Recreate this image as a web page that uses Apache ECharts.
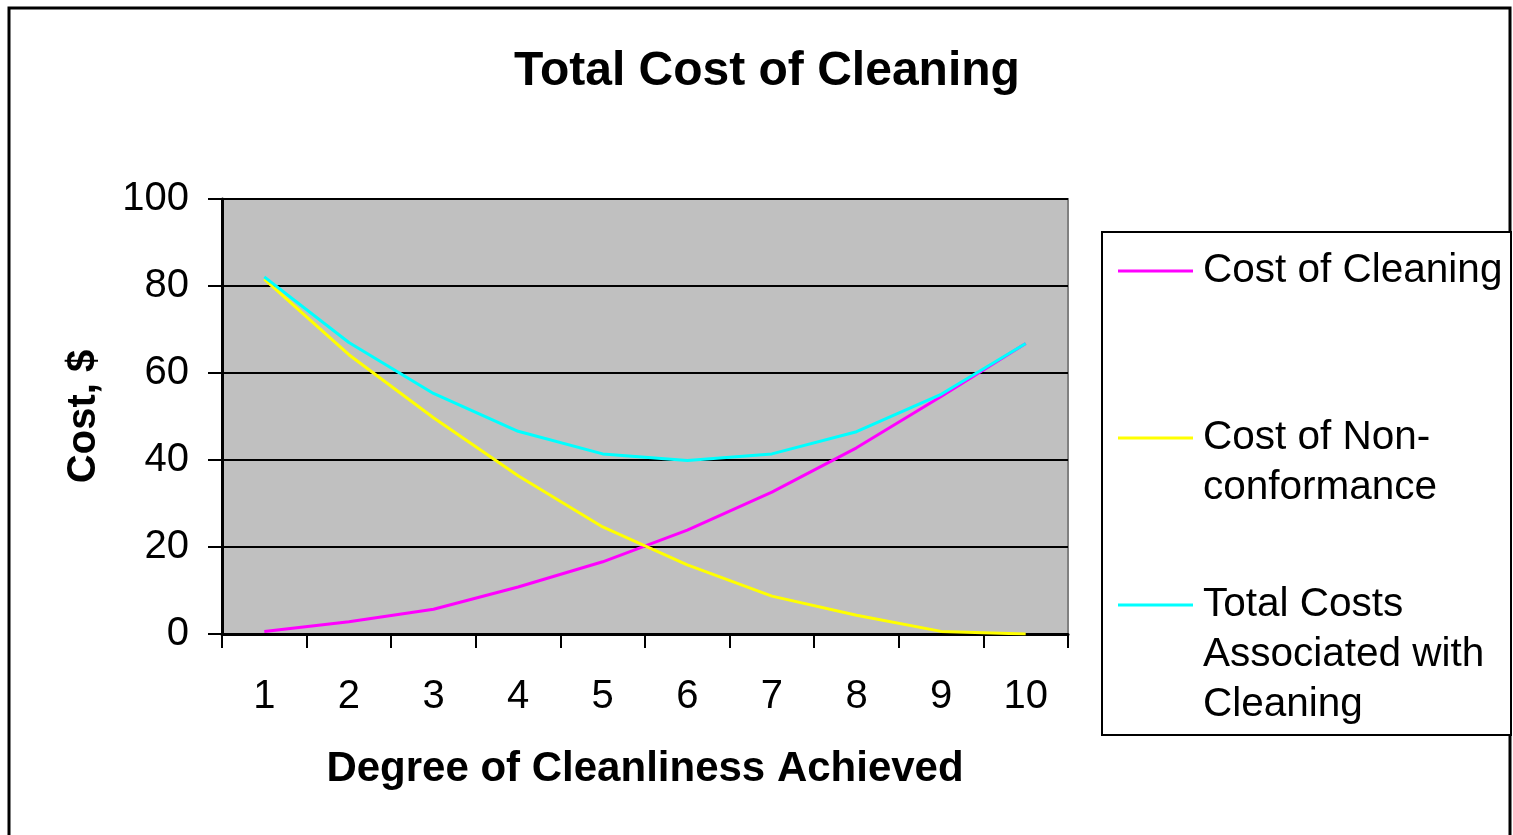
<!DOCTYPE html>
<html>
<head>
<meta charset="utf-8">
<script src="https://cdn.jsdelivr.net/npm/echarts@6/dist/echarts.min.js"></script>
<style>
html,body{margin:0;padding:0;background:#fff;}
#chart{width:1513px;height:835px;}
</style>
</head>
<body>
<div id="chart"></div>
<script>
var categories = ['1','2','3','4','5','6','7','8','9','10'];
var seriesNames = ['Cost of Cleaning', 'Cost of Non-conformance', 'Total Costs Associated with Cleaning'];
var legendLines = [['Cost of Cleaning'], ['Cost of Non-', 'conformance'], ['Total Costs', 'Associated with', 'Cleaning']];
var costOfCleaning = [0.6, 2.8, 5.7, 10.8, 16.6, 23.9, 32.6, 42.8, 54.6, 66.8];
var costOfNonconformance = [81.6, 64.2, 49.7, 36.4, 24.6, 15.9, 8.7, 4.3, 0.6, 0];
var totalCosts = [82.1, 67.0, 55.3, 46.6, 41.4, 39.9, 41.4, 46.5, 55.1, 66.8];
var yTicks = [0, 20, 40, 60, 80, 100];
var colors = ['#FF00FF', '#FFFF00', '#00FFFF'];
var seriesData = [costOfCleaning, costOfNonconformance, totalCosts];

var FONT = '"Liberation Sans", Arial, sans-serif';
var chart = echarts.init(document.getElementById('chart'), null, {renderer: 'canvas'});

var legendCenters = [271, 438, 605];
var LH = 50;
var legends = seriesNames.map(function (name, i) {
  var lines = legendLines[i];
  var pad = [];
  for (var k = 1; k < lines.length; k++) pad.push('');
  var total = pad.length + lines.length;
  return {
    show: true,
    data: [name],
    orient: 'vertical',
    left: 1118,
    top: legendCenters[i] - total * LH / 2,
    padding: 0,
    icon: 'rect',
    itemWidth: 75,
    itemHeight: 3,
    selectedMode: false,
    formatter: function () { return pad.concat(lines).join('\n'); },
    textStyle: {fontFamily: FONT, fontSize: 40.5, color: '#000', lineHeight: LH, padding: [0, 0, 0, 5]}
  };
});

var option = {
  backgroundColor: '#fff',
  animation: false,
  title: {
    text: 'Total Cost of Cleaning',
    left: 762,
    textAlign: 'center',
    top: 43,
    textStyle: {fontFamily: FONT, fontSize: 48, fontWeight: 'bold', color: '#000'}
  },
  legend: legends,
  grid: {
    left: 222, top: 199, width: 846, height: 435,
    show: true, backgroundColor: '#C0C0C0', borderColor: '#808080', borderWidth: 2,
    containLabel: false
  },
  xAxis: {
    type: 'category',
    data: categories,
    boundaryGap: true,
    name: 'Degree of Cleanliness Achieved',
    nameLocation: 'middle',
    nameGap: 114,
    nameTextStyle: {fontFamily: FONT, fontSize: 42, fontWeight: 'bold', color: '#000'},
    axisLine: {show: true, lineStyle: {color: '#000', width: 3}},
    axisTick: {show: true, length: 14, lineStyle: {color: '#000', width: 2}},
    axisLabel: {fontFamily: FONT, fontSize: 40, color: '#000', margin: 43},
    splitLine: {show: false}
  },
  yAxis: {
    type: 'value',
    min: yTicks[0],
    max: yTicks[yTicks.length - 1],
    interval: 20,
    name: 'Cost, $',
    nameLocation: 'middle',
    nameGap: 118,
    nameTextStyle: {fontFamily: FONT, fontSize: 40, fontWeight: 'bold', color: '#000'},
    axisLine: {show: true, lineStyle: {color: '#000', width: 3}},
    axisTick: {show: true, length: 14, lineStyle: {color: '#000', width: 2}},
    axisLabel: {fontFamily: FONT, fontSize: 40, color: '#000', margin: 33},
    splitLine: {show: true, lineStyle: {color: '#000', width: 2}}
  },
  graphic: [
    {type: 'rect', z: -10, silent: true, shape: {x: 9, y: 8, width: 1501, height: 840}, style: {fill: '#fff', stroke: '#000', lineWidth: 3}},
    {type: 'rect', z: 0, silent: true, shape: {x: 1102, y: 232, width: 409, height: 503}, style: {fill: '#fff', stroke: '#000', lineWidth: 2}}
  ],
  series: seriesNames.map(function (name, i) {
    return {
      name: name,
      type: 'line',
      data: seriesData[i],
      symbol: 'none',
      showSymbol: false,
      smooth: false,
      lineStyle: {color: colors[i], width: 3},
      itemStyle: {color: colors[i]},
      z: 3 + i
    };
  })
};
chart.setOption(option);
</script>
</body>
</html>
